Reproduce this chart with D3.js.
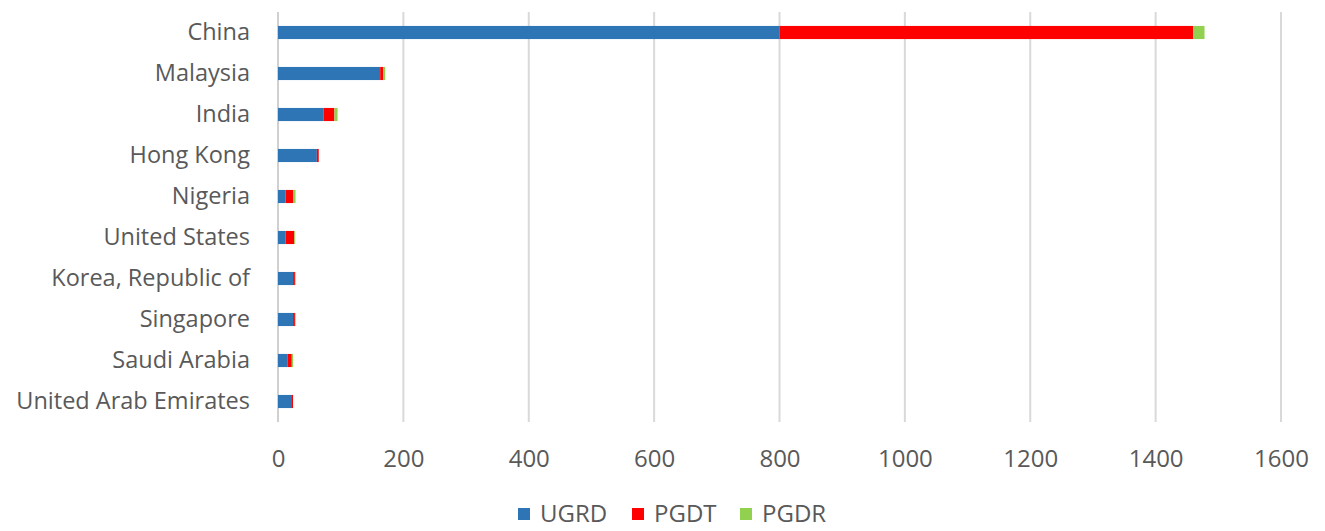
<!DOCTYPE html>
<html>
<head>
<meta charset="utf-8">
<script src="https://cdn.jsdelivr.net/npm/d3@7"></script>
<style>
  body { margin: 0; background: #fff; }
  text { font-family: "Open Sans", "Noto Sans", sans-serif; fill: #595959; }
</style>
</head>
<body>
<script>
var countries = ['China', 'Malaysia', 'India', 'Hong Kong', 'Nigeria', 'United States',
  'Korea, Republic of', 'Singapore', 'Saudi Arabia', 'United Arab Emirates']
var ugrd = [800, 163, 73, 62, 12, 12, 24, 24, 15, 21]
var pgdt = [660, 5, 17, 3, 12, 14, 3, 3, 7, 3]
var pgdr = [18, 3, 5, 0, 4, 1.5, 1, 1, 2, 0]
var seriesNames = ['UGRD', 'PGDT', 'PGDR']
var colors = ['#2e75b6', '#ff0000', '#92d050']
var xTicks = [0, 200, 400, 600, 800, 1000, 1200, 1400, 1600]

var W = 1325, H = 531
var margin = { top: 12, right: 44, bottom: 109, left: 278 }
var width = W - margin.left - margin.right
var height = H - margin.top - margin.bottom

var rows = countries.map(function (c, i) {
  return { country: c, UGRD: ugrd[i], PGDT: pgdt[i], PGDR: pgdr[i] }
})
var stacked = d3.stack().keys(seriesNames)(rows)

var x = d3.scaleLinear().domain([0, 1600]).range([0, width])
var y = d3.scaleBand().domain(countries).range([0, height]).paddingInner(0.68).paddingOuter(0.34)

var svg = d3.select('body').append('svg')
  .attr('width', W).attr('height', H)
  .append('g')
  .attr('transform', 'translate(' + margin.left + ',' + margin.top + ')')

// gridlines
svg.append('g')
  .selectAll('line')
  .data(xTicks.slice(1))
  .enter().append('line')
  .attr('x1', function (d) { return x(d) }).attr('x2', function (d) { return x(d) })
  .attr('y1', 0).attr('y2', height)
  .attr('stroke', '#d9d9d9').attr('stroke-width', 2)

svg.append('line')
  .attr('x1', 0).attr('x2', 0).attr('y1', 0).attr('y2', height)
  .attr('stroke', '#d0d0d0').attr('stroke-width', 2)

// bars
svg.append('g')
  .selectAll('g')
  .data(stacked)
  .enter().append('g')
  .attr('fill', function (d, i) { return colors[i] })
  .selectAll('rect')
  .data(function (d) { return d })
  .enter().append('rect')
  .attr('x', function (d) { return x(d[0]) })
  .attr('y', function (d) { return y(d.data.country) })
  .attr('width', function (d) { return x(d[1]) - x(d[0]) })
  .attr('height', y.bandwidth())

// y labels
svg.append('g')
  .call(d3.axisLeft(y).tickSize(0).tickPadding(28))
  .call(function (g) { g.select('.domain').remove() })
  .selectAll('text')
  .style('font-size', '23.5px')

// x labels
svg.append('g')
  .attr('transform', 'translate(0,' + height + ')')
  .call(d3.axisBottom(x).tickValues(xTicks).tickSize(0).tickPadding(28).tickFormat(d3.format('d')))
  .call(function (g) { g.select('.domain').remove() })
  .selectAll('text')
  .style('font-size', '24px')

// legend (kept just inside the bottom edge)
var legend = d3.select('svg').append('g')
  .attr('transform', 'translate(0,' + 514 + ')')
var legendX = [518, 632, 740]
seriesNames.forEach(function (s, i) {
  legend.append('rect')
    .attr('x', legendX[i]).attr('y', -6)
    .attr('width', 12).attr('height', 12)
    .attr('fill', colors[i])
  legend.append('text')
    .attr('x', legendX[i] + 22).attr('y', 0)
    .attr('dy', '0.35em')
    .style('font-size', '24px')
    .text(s)
})
</script>
</body>
</html>
